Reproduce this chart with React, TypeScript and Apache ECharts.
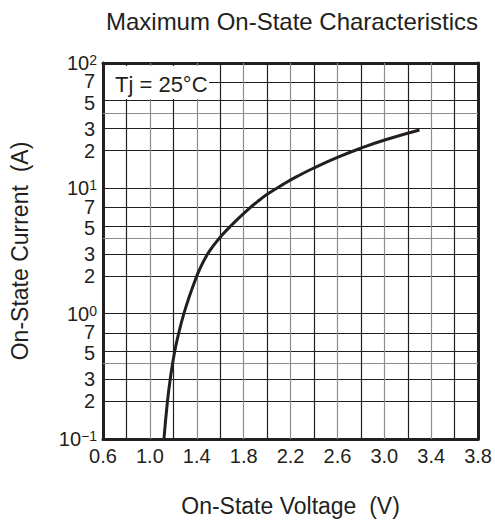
import React, { useEffect, useRef } from "react";
import * as echarts from "echarts";

const FONT = "'Liberation Sans', Arial, sans-serif";
const INK = "#231f20";

// Curve readings (On-State Voltage V, On-State Current A)
const voltage = [1.12, 1.15, 1.175, 1.21, 1.25, 1.29, 1.34, 1.395, 1.42, 1.48, 1.54, 1.61, 1.7, 1.82, 1.93, 2.02, 2.14, 2.26, 2.39, 2.61, 2.8, 3.01, 3.3];
const current = [0.1, 0.2, 0.307, 0.49, 0.724, 1.0, 1.4, 1.94, 2.21, 2.86, 3.47, 4.18, 5.12, 6.56, 8.0, 9.2, 10.8, 12.5, 14.4, 17.8, 20.9, 24.4, 29.2];

// Axis ticks / labels
const xTickLabels = ["0.6", "1.0", "1.4", "1.8", "2.2", "2.6", "3.0", "3.4", "3.8"];
const xGridValues = [0.8, 1.0, 1.2, 1.4, 1.6, 1.8, 2.0, 2.2, 2.4, 2.6, 2.8, 3.0, 3.2, 3.4, 3.6];
const yDecades = [0.1, 1, 10, 100];
const yDecadeExponents = ["\u22121", "0", "1", "2"];
const yGridDecades = [0.1, 1, 10];
const yGridMultipliers = [1, 2, 3, 4, 5, 7];
const yMinorLabels = ["2", "3", "5", "7"];

export default function App() {
  const ref = useRef<HTMLDivElement>(null);
  useEffect(() => {
    if (!ref.current) return;
    const chart = echarts.init(ref.current, null, { renderer: "svg" });

    const curve = voltage.map((v, i) => [v, current[i]]);

    const hLines: any[] = [];
    yGridDecades.forEach((d) => {
      yGridMultipliers.forEach((m) => {
        if (d === 0.1 && m === 1) return;
        const lab = yMinorLabels.includes(String(m)) ? String(m) : "";
        hLines.push({
          yAxis: d * m,
          lineStyle: { color: m === 4 ? "#8c8c8c" : INK, width: 1.2, type: "solid" },
          label: {
            show: lab !== "",
            position: "start",
            formatter: lab,
            distance: 8,
            offset: [0, m === 7 ? -1 : m === 5 ? 2 : 0],
            fontSize: 20,
            lineHeight: 16,
            fontFamily: FONT,
            color: INK,
          },
        });
      });
    });
    const vLines = xGridValues.map((x) => ({
      xAxis: x,
      lineStyle: {
        color: xTickLabels.includes(x.toFixed(1)) ? "#8c8c8c" : INK,
        width: 1.2,
        type: "solid",
      },
      label: { show: false },
    }));

    const borderAxisLine = { show: true, lineStyle: { color: INK, width: 3 } };

    chart.setOption({
      animation: false,
      backgroundColor: "#ffffff",
      title: {
        text: "Maximum On-State Characteristics",
        left: 287,
        top: 4,
        textAlign: "center",
        textStyle: { fontSize: 24, fontWeight: "normal", color: INK, fontFamily: FONT },
      },
      grid: { left: 103, top: 63, right: 15, bottom: 85, containLabel: false },
      xAxis: [
        {
          type: "value",
          min: 0.6,
          max: 3.8,
          interval: 0.2,
          name: "On-State Voltage  (V)",
          nameLocation: "middle",
          nameGap: 55,
          nameTextStyle: { fontSize: 23, color: INK, fontFamily: FONT },
          axisLine: borderAxisLine,
          axisTick: { show: false },
          splitLine: { show: false },
          axisLabel: {
            margin: 7,
            fontSize: 20,
            color: INK,
            fontFamily: FONT,
            showMinLabel: true,
            showMaxLabel: true,
            formatter: (v: number) => {
              const s = v.toFixed(1);
              return xTickLabels.includes(s) ? s : "";
            },
          },
        },
        {
          type: "value",
          position: "top",
          min: 0.6,
          max: 3.8,
          axisLine: borderAxisLine,
          axisTick: { show: false },
          axisLabel: { show: false },
          splitLine: { show: false },
        },
      ],
      yAxis: [
        {
          type: "log",
          logBase: 10,
          min: 0.1,
          max: 100,
          name: "On-State Current  (A)",
          nameLocation: "middle",
          nameGap: 72,
          nameRotate: 90,
          nameTextStyle: { fontSize: 23, color: INK, fontFamily: FONT },
          axisLine: borderAxisLine,
          axisTick: { show: false },
          splitLine: { show: false },
          axisLabel: {
            margin: 6,
            color: INK,
            fontFamily: FONT,
            formatter: (v: number) => {
              let idx = -1;
              yDecades.forEach((d, i) => {
                if (Math.abs(Math.log10(v) - Math.log10(d)) < 1e-6) idx = i;
              });
              if (idx < 0) return "";
              return "{b|10}{s|" + yDecadeExponents[idx] + "}";
            },
            rich: {
              b: { fontSize: 20, color: INK, fontFamily: FONT, lineHeight: 20 },
              s: { fontSize: 14, color: INK, fontFamily: FONT, verticalAlign: "top", lineHeight: 20 },
            },
          },
        },
        {
          type: "log",
          logBase: 10,
          min: 0.1,
          max: 100,
          position: "right",
          axisLine: borderAxisLine,
          axisTick: { show: false },
          axisLabel: { show: false },
          splitLine: { show: false },
        },
      ],
      graphic: [
        {
          type: "rect",
          z: 100,
          zlevel: 0,
          shape: { x: 105, y: 66, width: 104, height: 33 },
          style: { fill: "#ffffff" },
        },
        {
          type: "text",
          z: 101,
          zlevel: 0,
          x: 115,
          y: 84,
          style: {
            text: "Tj = 25°C",
            fontSize: 22,
            fontFamily: FONT,
            fill: INK,
            verticalAlign: "middle",
            align: "left",
          },
        },
      ],
      series: [
        {
          name: "grid",
          type: "line",
          data: curve,
          showSymbol: false,
          silent: true,
          z: 1,
          lineStyle: { opacity: 0 },
          markLine: {
            silent: true,
            symbol: ["none", "none"],
            animation: false,
            data: [...hLines, ...vLines],
          },
        },
        {
          name: "On-State",
          type: "line",
          data: curve,
          showSymbol: false,
          smooth: 0.5,
          z: 10,
          lineStyle: { color: INK, width: 3 },
        },
      ],
    });
    return () => chart.dispose();
  }, []);
  return (
    <div
      ref={ref}
      style={{ position: "fixed", left: 0, top: 0, width: 495, height: 524, background: "#fff" }}
    />
  );
}
